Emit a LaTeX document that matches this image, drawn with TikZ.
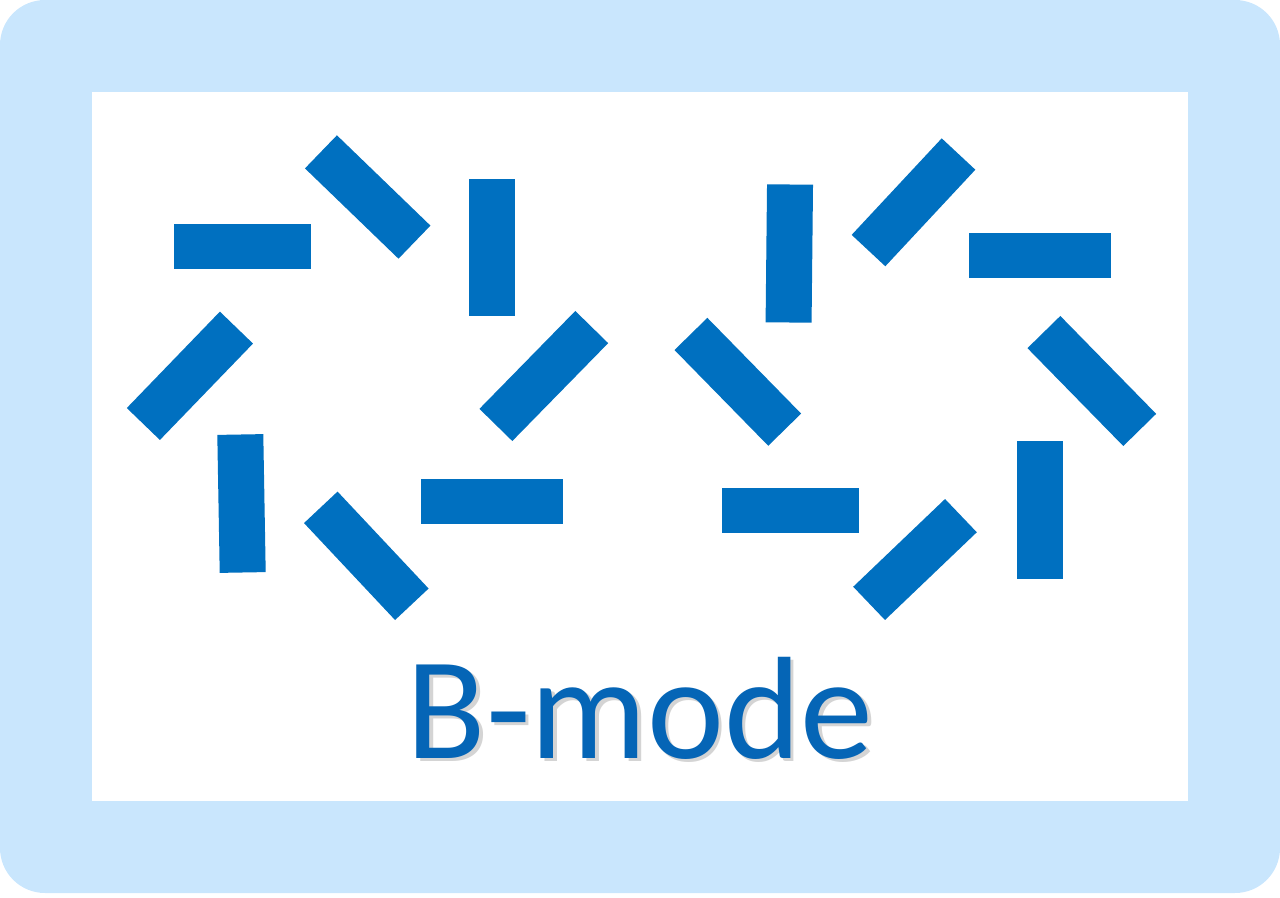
\documentclass[tikz,border=0pt]{standalone}
\usepackage{fontspec}
\setmainfont{Carlito}
\definecolor{framefill}{HTML}{C9E6FD}
\definecolor{barblue}{HTML}{0070C0}
\definecolor{textblue}{HTML}{0565B6}
\definecolor{shadowgray}{HTML}{D4D4D4}
\newcommand{\shadowtext}[1]{\makebox[0pt][l]{\kern0.07cm\raisebox{-0.07cm}{\color{shadowgray}#1}}#1}
\tikzset{
    bar/.style={fill=barblue,inner sep=0pt,minimum height=0.92cm},
    label/.style={inner sep=0pt,anchor=base,font=\fontsize{83}{100}\selectfont}
}
\begin{document}
\begin{tikzpicture}[x=0.02cm,y=-0.02cm]
        \useasboundingbox (0,0) rectangle (1280,898);
        \fill[framefill,rounded corners=0.9cm] (0,0) rectangle (1280,893);
        \fill[white] (92,92) rectangle (1188,801);
        \foreach \n/\cx/\cy/\len/\ang in {
            b1/242.5/246.5/137/0, b2/367.7/197/130/-44, b3/492/247.5/137/90,
            b4/189.9/375.8/134/46, b5/543.8/376/137/45.6, b6/241.5/503.5/138/91,
            b7/366.3/555.8/133/-46.8, b8/492/501.5/142/0, b9/789.3/253.5/138/89.4,
            b10/913.5/202.3/132/47, b11/1040/255.5/142/0, b12/737.8/381.8/134/-45.6,
            b13/1091.8/381/137/-45.6, b14/790.5/510.5/137/0, b15/915/559.5/127/43.7,
            b16/1040/510/138/90} {
            \node[bar,minimum width=\len*0.02cm,rotate=\ang] (\n) at (\cx,\cy) {};
        }
        \node[label,text=textblue] (title) at (640,758) {\shadowtext{B-mode}};
    \end{tikzpicture}
\end{document}
